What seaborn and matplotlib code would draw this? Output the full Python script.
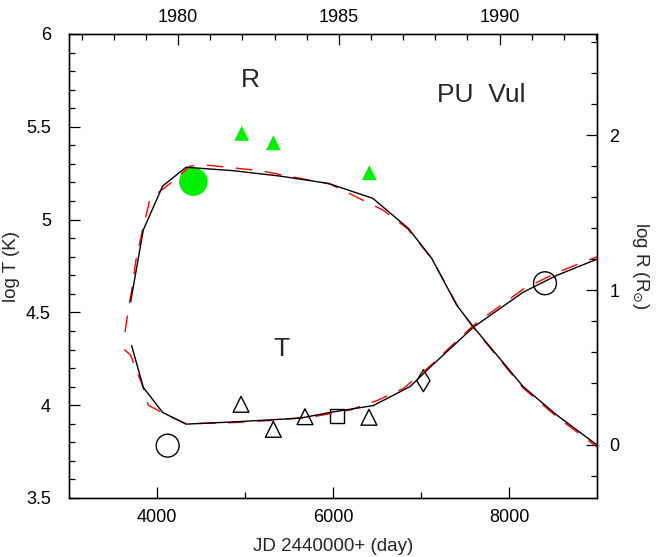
import numpy as np
import pandas as pd
import seaborn as sns
import matplotlib
matplotlib.use("Agg")
import matplotlib.pyplot as plt
from matplotlib.ticker import FixedLocator, MultipleLocator, FuncFormatter

# ---- data (JD - 2440000) ----
# black: T curve (log T, left axis)
t_jd = [3712, 3844, 4064, 4330, 4867, 5625, 5966, 6458, 6875, 7102, 7594, 8162, 8541, 9000]
t_log = [4.321, 4.096, 3.961, 3.898, 3.910, 3.930, 3.961, 3.998, 4.100, 4.204, 4.420, 4.609, 4.699, 4.787]

# black: R curve (log R, right axis)
r_jd = [3701, 3844, 4064, 4330, 4867, 5400, 5947, 6451, 6856, 7121, 7405, 7594, 8162, 8541, 9000]
r_log = [0.925, 1.387, 1.671, 1.792, 1.770, 1.735, 1.688, 1.592, 1.398, 1.205, 0.903, 0.763, 0.376, 0.194, 0.0]

# red dashed: model T
mt_jd = [3628, 3700, 3740, 3790, 3840, 3900, 4060, 4330, 4800, 5300, 5800, 6200, 6500, 6800, 7100, 7594, 8160, 8545, 9000]
mt_log = [4.30, 4.27, 4.22, 4.16, 4.10, 4.00, 3.96, 3.90, 3.905, 3.918, 3.94, 3.975, 4.025, 4.09, 4.21, 4.43, 4.625, 4.715, 4.80]

# red dashed: model R
mr_jd = [3636, 3670, 3710, 3761, 3835, 3920, 4170, 4375, 4568, 5170, 5966, 6568, 6850, 7125, 7410, 7590, 8160, 8545, 9000]
mr_log = [0.729, 0.858, 0.99, 1.194, 1.387, 1.587, 1.697, 1.800, 1.806, 1.770, 1.684, 1.516, 1.394, 1.200, 0.903, 0.761, 0.368, 0.181, -0.013]

# observed points
rad_circle_jd, rad_circle = [4413], [1.699]
rad_tri_jd = [4962, 5322, 6413]
rad_tri = [2.011, 1.950, 1.757]

temp_circle_jd = [4121, 8409]
temp_circle = [3.782, 4.657]
temp_tri_jd = [4955, 5322, 5682, 6409]
temp_tri = [4.005, 3.870, 3.938, 3.935]
temp_sq_jd, temp_sq = [6046], [3.942]
temp_dm_jd, temp_dm = [7027], [4.132]

years_major = [1980, 1985, 1990]
years_minor = list(range(1977, 1994))

sns.set_style("ticks")
plt.rcParams["font.family"] = ["Liberation Sans", "DejaVu Sans"]

fig, ax = plt.subplots(figsize=(6.6, 5.57), dpi=100)
fig.subplots_adjust(left=69/660, right=597/660, bottom=1-498/557, top=1-34/557)
axr = ax.twinx()
axt = ax.twiny()

dash = (0, (12, 9))
sns.lineplot(x=mt_jd, y=mt_log, ax=ax, color="red", lw=1.0, linestyle=dash, sort=False, estimator=None)
sns.lineplot(x=t_jd, y=t_log, ax=ax, color="black", lw=1.0, sort=False, estimator=None)
sns.lineplot(x=mr_jd, y=mr_log, ax=axr, color="red", lw=1.0, linestyle=dash, sort=False, estimator=None)
sns.lineplot(x=r_jd, y=r_log, ax=axr, color="black", lw=1.0, sort=False, estimator=None)

green = "#00ee00"
sns.scatterplot(x=rad_circle_jd, y=rad_circle, ax=axr, marker="o", s=420, color=green, edgecolor="none")
sns.scatterplot(x=rad_tri_jd, y=rad_tri, ax=axr, marker="^", s=115, color=green, edgecolor="none")

open_kw = dict(facecolor="none", edgecolor="black", linewidth=1.0)
sns.scatterplot(x=temp_circle_jd, y=temp_circle, ax=ax, marker="o", s=272, **open_kw)
sns.scatterplot(x=temp_tri_jd, y=temp_tri, ax=ax, marker="^", s=130, **open_kw)
sns.scatterplot(x=temp_sq_jd, y=temp_sq, ax=ax, marker="s", s=100, **open_kw)
sns.scatterplot(x=temp_dm_jd, y=temp_dm, ax=ax, marker="d", s=125, **open_kw)

ax.text(5057, 5.752, "R", fontsize=19, ha="center", va="center")
ax.text(5409, 4.303, "T", fontsize=19, ha="center", va="center")
ax.text(7682, 5.671, "PU  Vul", fontsize=19, ha="center", va="center")

# limits
ax.set_xlim(3000, 9000)
ax.set_ylim(3.5, 6)
axt.set_xlim(3000, 9000)
axr.set_ylim(-0.342, 2.652)

fmt = FuncFormatter(lambda v, _: f"{v:g}")

ax.xaxis.set_major_locator(FixedLocator([4000, 6000, 8000]))
ax.xaxis.set_minor_locator(FixedLocator([5000, 7000]))
ax.yaxis.set_major_locator(MultipleLocator(0.5))
ax.yaxis.set_minor_locator(MultipleLocator(0.1))
ax.yaxis.set_major_formatter(fmt)

axr.yaxis.set_major_locator(FixedLocator([0, 1, 2]))
axr.yaxis.set_minor_locator(MultipleLocator(0.2))
axr.yaxis.set_major_formatter(fmt)

jd = lambda y: pd.Timestamp(f"{y}-01-01").to_julian_date() - 2440000
axt.xaxis.set_major_locator(FixedLocator([jd(y) for y in years_major]))
axt.xaxis.set_minor_locator(FixedLocator([jd(y) for y in years_minor if y not in years_major]))
axt.set_xticklabels([str(y) for y in years_major])

for a in (ax, axr, axt):
    a.tick_params(which="both", direction="in", width=0.9, labelsize=13, colors="black")
    a.tick_params(which="major", length=8)
    a.tick_params(which="minor", length=4.5)
    for s in a.spines.values():
        s.set_color("black")
        s.set_linewidth(0.9)
ax.tick_params(top=False, right=False)
ax.tick_params(axis="y", pad=13)
ax.tick_params(axis="x", pad=8)
axr.tick_params(axis="y", pad=9)
axt.tick_params(axis="x", pad=6)

ax.set_xlabel("JD 2440000+ (day)", fontsize=13.5)
ax.xaxis.set_label_coords(0.5, -0.105)
ax.xaxis.label.set_va("center")
ax.set_ylabel("log T (K)", fontsize=13.5, va="center")
ax.yaxis.set_label_coords(-0.108, 0.5)
axr.set_ylabel(r"log R (R$_{\odot}$)", fontsize=13.5, rotation=270, va="center")
axr.yaxis.set_label_coords(1.083, 0.5)

fig.savefig("out.png", dpi=100)
